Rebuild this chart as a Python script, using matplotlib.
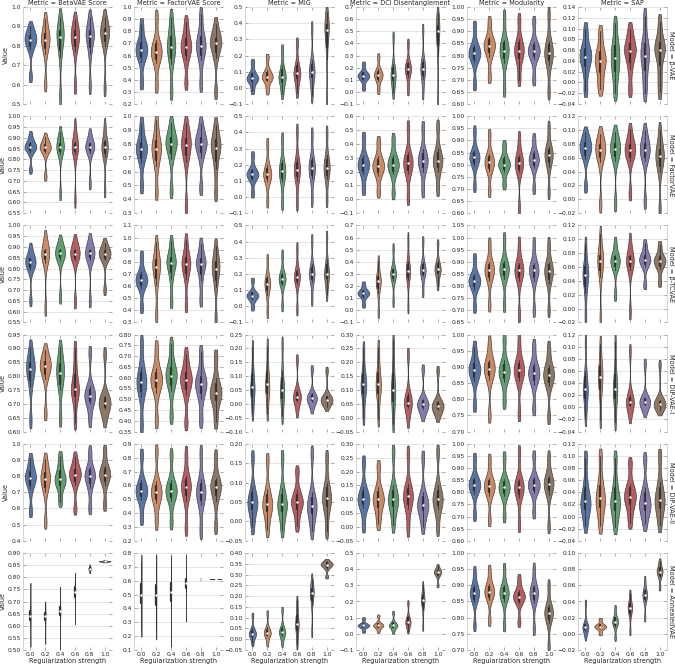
import numpy as np
import pandas as pd
import matplotlib
matplotlib.use("Agg")
import matplotlib.pyplot as plt
import seaborn as sns
from matplotlib.ticker import MultipleLocator, FuncFormatter

REG = ["0.0", "0.2", "0.4", "0.6", "0.8", "1.0"]
METRICS = ["BetaVAE Score", "FactorVAE Score", "MIG", "DCI Disentanglement", "Modularity", "SAP"]
MODELS = ["\u03b2-VAE", "FactorVAE", "\u03b2-TCVAE", "DIP-VAE-I", "DIP-VAE-II", "AnnealedVAE"]

# Each violin: sample values (min, lower tail, body, median, body, upper tail, max)
# ---- Row 1: beta-VAE
BVAE_BETA = [[0.64, 0.78, 0.82, 0.83, 0.84, 0.865, 0.90], [0.60, 0.76, 0.815, 0.83, 0.845, 0.88, 0.94],
             [0.54, 0.74, 0.82, 0.845, 0.865, 0.89, 0.95], [0.59, 0.77, 0.825, 0.845, 0.86, 0.89, 0.94],
             [0.59, 0.76, 0.83, 0.85, 0.865, 0.89, 0.95], [0.58, 0.80, 0.85, 0.865, 0.875, 0.90, 0.95]]
BVAE_FACTOR = [[0.37, 0.55, 0.62, 0.645, 0.67, 0.73, 0.86], [0.35, 0.54, 0.61, 0.63, 0.655, 0.73, 0.92],
               [0.30, 0.53, 0.63, 0.67, 0.71, 0.80, 0.92], [0.37, 0.56, 0.645, 0.67, 0.70, 0.77, 0.88],
               [0.36, 0.56, 0.65, 0.68, 0.71, 0.79, 0.94], [0.30, 0.58, 0.68, 0.70, 0.72, 0.76, 0.86]]
BVAE_MIG = [[-0.02, 0.03, 0.053, 0.06, 0.068, 0.10, 0.16], [-0.02, 0.04, 0.062, 0.07, 0.078, 0.11, 0.19],
            [-0.04, 0.02, 0.058, 0.07, 0.085, 0.14, 0.24], [-0.03, 0.04, 0.08, 0.09, 0.105, 0.16, 0.28],
            [-0.05, 0.04, 0.09, 0.10, 0.115, 0.17, 0.37], [-0.06, 0.18, 0.33, 0.355, 0.375, 0.40, 0.47]]
BVAE_DCI = [[0.03, 0.095, 0.125, 0.13, 0.14, 0.165, 0.23], [0.01, 0.09, 0.13, 0.14, 0.15, 0.185, 0.29],
            [-0.01, 0.07, 0.12, 0.14, 0.16, 0.23, 0.45], [0.01, 0.12, 0.175, 0.19, 0.205, 0.25, 0.40],
            [-0.01, 0.11, 0.175, 0.19, 0.21, 0.27, 0.51], [-0.05, 0.30, 0.47, 0.50, 0.525, 0.56, 0.65]]
BVAE_MOD = [[0.68, 0.775, 0.80, 0.81, 0.82, 0.845, 0.92], [0.71, 0.795, 0.83, 0.84, 0.85, 0.875, 0.94],
            [0.66, 0.77, 0.81, 0.82, 0.835, 0.865, 0.96], [0.70, 0.77, 0.81, 0.82, 0.835, 0.87, 0.95],
            [0.70, 0.785, 0.81, 0.82, 0.83, 0.855, 0.94], [0.65, 0.76, 0.80, 0.81, 0.825, 0.86, 0.97]]
BVAE_SAP = [[-0.015, 0.02, 0.04, 0.048, 0.055, 0.07, 0.10], [-0.013, 0.008, 0.03, 0.04, 0.048, 0.065, 0.095],
            [-0.02, 0.012, 0.03, 0.045, 0.06, 0.075, 0.11], [-0.015, 0.025, 0.05, 0.058, 0.064, 0.078, 0.10],
            [-0.02, 0.01, 0.038, 0.05, 0.062, 0.08, 0.123], [-0.017, 0.015, 0.05, 0.06, 0.067, 0.078, 0.113]]

# ---- Row 2: FactorVAE
FVAE_BETA = [[0.75, 0.835, 0.852, 0.858, 0.864, 0.878, 0.915], [0.72, 0.83, 0.85, 0.855, 0.861, 0.872, 0.905],
             [0.64, 0.825, 0.85, 0.858, 0.865, 0.88, 0.925], [0.61, 0.825, 0.85, 0.857, 0.865, 0.88, 0.955],
             [0.685, 0.83, 0.852, 0.858, 0.864, 0.876, 0.92], [0.655, 0.81, 0.845, 0.855, 0.866, 0.89, 0.96]]
FVAE_FACTOR = [[0.49, 0.66, 0.74, 0.76, 0.78, 0.84, 0.95], [0.45, 0.64, 0.73, 0.76, 0.79, 0.85, 0.97],
               [0.46, 0.69, 0.78, 0.80, 0.82, 0.86, 0.95], [0.35, 0.67, 0.77, 0.79, 0.81, 0.86, 0.95],
               [0.48, 0.70, 0.78, 0.80, 0.82, 0.86, 0.95], [0.44, 0.62, 0.74, 0.77, 0.80, 0.85, 0.94]]
FVAE_MIG = [[0.02, 0.105, 0.132, 0.14, 0.148, 0.175, 0.26], [-0.03, 0.10, 0.13, 0.14, 0.152, 0.20, 0.33],
            [-0.04, 0.09, 0.145, 0.16, 0.175, 0.23, 0.36], [-0.04, 0.10, 0.155, 0.17, 0.185, 0.24, 0.41],
            [-0.02, 0.11, 0.165, 0.18, 0.195, 0.25, 0.39], [-0.02, 0.11, 0.165, 0.18, 0.20, 0.26, 0.40]]
FVAE_DCI = [[0.07, 0.18, 0.235, 0.25, 0.265, 0.32, 0.45], [0.05, 0.17, 0.225, 0.24, 0.255, 0.31, 0.42],
            [0.04, 0.18, 0.235, 0.25, 0.265, 0.32, 0.44], [0.01, 0.18, 0.245, 0.26, 0.28, 0.34, 0.52],
            [0.06, 0.20, 0.26, 0.28, 0.30, 0.36, 0.52], [0.07, 0.20, 0.26, 0.28, 0.30, 0.37, 0.53]]
FVAE_MOD = [[0.71, 0.795, 0.822, 0.83, 0.838, 0.86, 0.94], [0.69, 0.775, 0.80, 0.81, 0.82, 0.845, 0.925],
            [0.715, 0.77, 0.795, 0.80, 0.81, 0.835, 0.885], [0.62, 0.77, 0.798, 0.805, 0.815, 0.84, 0.91],
            [0.70, 0.785, 0.812, 0.82, 0.83, 0.855, 0.91], [0.685, 0.79, 0.83, 0.84, 0.85, 0.875, 0.955]]
FVAE_SAP = [[0.018, 0.058, 0.07, 0.074, 0.078, 0.085, 0.097], [-0.008, 0.054, 0.067, 0.071, 0.075, 0.083, 0.095],
            [-0.006, 0.056, 0.068, 0.072, 0.076, 0.084, 0.097], [0.008, 0.056, 0.067, 0.071, 0.075, 0.083, 0.101],
            [-0.003, 0.056, 0.067, 0.071, 0.075, 0.084, 0.10], [-0.014, 0.04, 0.057, 0.062, 0.067, 0.076, 0.10]]

# ---- Row 3: beta-TCVAE
BTC_BETA = [[0.65, 0.795, 0.822, 0.828, 0.835, 0.85, 0.895], [0.615, 0.825, 0.86, 0.868, 0.875, 0.89, 0.945],
            [0.665, 0.84, 0.864, 0.87, 0.876, 0.89, 0.93], [0.645, 0.84, 0.862, 0.868, 0.875, 0.89, 0.93],
            [0.65, 0.84, 0.864, 0.87, 0.877, 0.89, 0.935], [0.70, 0.84, 0.862, 0.868, 0.874, 0.885, 0.92]]
BTC_FACTOR = [[0.42, 0.58, 0.635, 0.65, 0.665, 0.72, 0.85], [0.36, 0.61, 0.73, 0.76, 0.785, 0.84, 0.96],
              [0.47, 0.66, 0.765, 0.79, 0.81, 0.86, 0.97], [0.44, 0.66, 0.755, 0.78, 0.80, 0.86, 0.98],
              [0.48, 0.64, 0.755, 0.78, 0.80, 0.85, 0.95], [0.33, 0.59, 0.71, 0.74, 0.77, 0.83, 0.93]]
BTC_MIG = [[-0.01, 0.04, 0.06, 0.065, 0.072, 0.09, 0.16], [-0.04, 0.07, 0.125, 0.14, 0.15, 0.185, 0.29],
           [0.00, 0.13, 0.162, 0.17, 0.178, 0.205, 0.32], [-0.02, 0.14, 0.172, 0.18, 0.19, 0.23, 0.36],
           [0.04, 0.15, 0.19, 0.20, 0.215, 0.26, 0.41], [0.07, 0.155, 0.19, 0.20, 0.225, 0.29, 0.43]]
BTC_DCI = [[0.04, 0.105, 0.133, 0.14, 0.147, 0.17, 0.22], [-0.02, 0.14, 0.22, 0.24, 0.255, 0.29, 0.41],
           [0.07, 0.245, 0.29, 0.30, 0.31, 0.35, 0.51], [0.03, 0.25, 0.305, 0.32, 0.34, 0.41, 0.59],
           [0.15, 0.28, 0.32, 0.33, 0.345, 0.40, 0.57], [0.20, 0.29, 0.328, 0.34, 0.355, 0.41, 0.55]]
BTC_MOD = [[0.71, 0.785, 0.812, 0.82, 0.828, 0.85, 0.915], [0.72, 0.82, 0.857, 0.865, 0.875, 0.90, 0.975],
           [0.72, 0.83, 0.862, 0.87, 0.878, 0.905, 0.995], [0.68, 0.82, 0.857, 0.865, 0.873, 0.895, 0.975],
           [0.70, 0.82, 0.857, 0.865, 0.873, 0.895, 0.975], [0.70, 0.81, 0.85, 0.86, 0.87, 0.90, 0.975]]
BTC_SAP = [[-0.013, 0.022, 0.043, 0.048, 0.054, 0.065, 0.093], [-0.015, 0.045, 0.065, 0.068, 0.072, 0.08, 0.107],
           [0.019, 0.056, 0.066, 0.068, 0.071, 0.078, 0.096], [-0.005, 0.056, 0.066, 0.068, 0.071, 0.078, 0.099],
           [0.034, 0.06, 0.068, 0.07, 0.073, 0.08, 0.094], [0.037, 0.057, 0.066, 0.068, 0.071, 0.077, 0.092]]

# ---- Row 4: DIP-VAE-I
DIP1_BETA = [[0.64, 0.76, 0.812, 0.825, 0.838, 0.86, 0.905], [0.665, 0.79, 0.827, 0.835, 0.843, 0.86, 0.895],
             [0.645, 0.75, 0.79, 0.81, 0.835, 0.855, 0.905], [0.635, 0.715, 0.745, 0.755, 0.775, 0.83, 0.90],
             [0.64, 0.70, 0.724, 0.73, 0.737, 0.765, 0.885], [0.64, 0.68, 0.70, 0.705, 0.712, 0.73, 0.88]]
DIP1_FACTOR = [[0.375, 0.51, 0.565, 0.58, 0.595, 0.65, 0.76], [0.40, 0.53, 0.58, 0.59, 0.60, 0.645, 0.74],
               [0.42, 0.54, 0.595, 0.61, 0.625, 0.665, 0.755], [0.39, 0.52, 0.575, 0.59, 0.60, 0.64, 0.71],
               [0.40, 0.50, 0.555, 0.57, 0.585, 0.625, 0.72], [0.395, 0.475, 0.52, 0.53, 0.545, 0.60, 0.70]]
DIP1_MIG = [[-0.035, 0.015, 0.045, 0.06, 0.08, 0.13, 0.205], [-0.035, 0.02, 0.055, 0.07, 0.09, 0.14, 0.21],
            [-0.045, 0.005, 0.035, 0.05, 0.07, 0.12, 0.215], [-0.03, 0.01, 0.021, 0.025, 0.029, 0.05, 0.16],
            [-0.02, 0.008, 0.017, 0.02, 0.024, 0.038, 0.125], [-0.012, 0.006, 0.013, 0.015, 0.018, 0.03, 0.12]]
DIP1_DCI = [[0.0, 0.07, 0.105, 0.12, 0.135, 0.175, 0.25], [-0.005, 0.07, 0.105, 0.12, 0.14, 0.185, 0.255],
            [-0.022, 0.04, 0.08, 0.10, 0.125, 0.19, 0.28], [-0.012, 0.035, 0.05, 0.055, 0.062, 0.09, 0.228],
            [0.005, 0.033, 0.045, 0.048, 0.053, 0.068, 0.175], [0.002, 0.028, 0.039, 0.042, 0.046, 0.06, 0.17]]
DIP1_MOD = [[0.78, 0.855, 0.882, 0.89, 0.898, 0.92, 0.963], [0.75, 0.86, 0.888, 0.895, 0.902, 0.92, 0.975],
            [0.79, 0.852, 0.877, 0.885, 0.895, 0.92, 0.985], [0.755, 0.855, 0.882, 0.89, 0.898, 0.92, 0.985],
            [0.77, 0.845, 0.872, 0.88, 0.888, 0.912, 0.967], [0.745, 0.842, 0.867, 0.875, 0.883, 0.907, 0.96]]
DIP1_SAP = [[-0.018, 0.008, 0.022, 0.03, 0.04, 0.06, 0.107], [-0.021, 0.02, 0.04, 0.05, 0.06, 0.075, 0.105],
            [-0.024, 0.008, 0.022, 0.03, 0.042, 0.065, 0.107], [-0.015, 0.002, 0.007, 0.009, 0.011, 0.02, 0.093],
            [-0.008, 0.004, 0.008, 0.009, 0.011, 0.016, 0.072], [-0.005, 0.002, 0.005, 0.006, 0.007, 0.012, 0.07]]

# ---- Row 5: DIP-VAE-II
DIP2_BETA = [[0.58, 0.72, 0.775, 0.79, 0.805, 0.845, 0.91], [0.515, 0.70, 0.765, 0.78, 0.80, 0.84, 0.905],
             [0.64, 0.725, 0.765, 0.78, 0.805, 0.855, 0.925], [0.595, 0.745, 0.797, 0.81, 0.822, 0.855, 0.92],
             [0.60, 0.725, 0.785, 0.80, 0.815, 0.855, 0.955], [0.62, 0.745, 0.797, 0.81, 0.825, 0.865, 0.96]]
DIP2_FACTOR = [[0.36, 0.495, 0.545, 0.56, 0.578, 0.64, 0.82], [0.33, 0.47, 0.535, 0.55, 0.568, 0.63, 0.845],
               [0.33, 0.49, 0.545, 0.56, 0.578, 0.64, 0.82], [0.29, 0.49, 0.57, 0.59, 0.61, 0.67, 0.83],
               [0.27, 0.455, 0.53, 0.55, 0.57, 0.645, 0.835], [0.30, 0.49, 0.57, 0.59, 0.605, 0.655, 0.81]]
DIP2_MIG = [[-0.015, 0.022, 0.043, 0.05, 0.058, 0.088, 0.165], [-0.022, 0.017, 0.038, 0.045, 0.053, 0.083, 0.158],
            [-0.022, 0.017, 0.038, 0.045, 0.053, 0.085, 0.165], [-0.012, 0.022, 0.043, 0.05, 0.057, 0.08, 0.13],
            [-0.025, 0.012, 0.033, 0.04, 0.047, 0.075, 0.175], [-0.025, 0.025, 0.052, 0.06, 0.07, 0.10, 0.165]]
DIP2_DCI = [[0.003, 0.07, 0.093, 0.10, 0.11, 0.145, 0.235], [0.01, 0.055, 0.09, 0.10, 0.11, 0.145, 0.22],
            [0.006, 0.062, 0.092, 0.10, 0.11, 0.15, 0.27], [-0.008, 0.065, 0.10, 0.11, 0.12, 0.155, 0.265],
            [0.0, 0.05, 0.073, 0.08, 0.09, 0.125, 0.25], [-0.005, 0.065, 0.092, 0.10, 0.11, 0.15, 0.27]]
DIP2_MOD = [[0.705, 0.795, 0.822, 0.83, 0.838, 0.86, 0.94], [0.685, 0.785, 0.817, 0.825, 0.833, 0.857, 0.935],
            [0.70, 0.785, 0.813, 0.82, 0.828, 0.855, 0.945], [0.665, 0.778, 0.812, 0.82, 0.828, 0.855, 0.965],
            [0.715, 0.798, 0.822, 0.83, 0.838, 0.862, 0.95], [0.66, 0.79, 0.827, 0.835, 0.843, 0.867, 0.945]]
DIP2_SAP = [[-0.015, 0.007, 0.018, 0.025, 0.035, 0.058, 0.097], [-0.016, 0.008, 0.022, 0.03, 0.04, 0.062, 0.10],
            [-0.017, 0.005, 0.018, 0.025, 0.035, 0.058, 0.097], [-0.01, 0.013, 0.027, 0.033, 0.04, 0.054, 0.088],
            [-0.013, 0.007, 0.016, 0.022, 0.03, 0.048, 0.095], [-0.014, 0.008, 0.021, 0.028, 0.037, 0.058, 0.10]]

# ---- Row 6: AnnealedVAE
ANN_BETA = [[0.535, 0.61, 0.635, 0.64, 0.645, 0.68, 0.755], [0.54, 0.61, 0.635, 0.64, 0.645, 0.66, 0.685],
            [0.525, 0.635, 0.655, 0.66, 0.667, 0.69, 0.74], [0.625, 0.70, 0.735, 0.74, 0.748, 0.77, 0.80],
            [0.82, 0.829, 0.833, 0.835, 0.837, 0.841, 0.85], [0.862, 0.864, 0.865, 0.866, 0.866, 0.867, 0.869]]
ANN_FACTOR = [[0.245, 0.40, 0.48, 0.50, 0.53, 0.62, 0.735], [0.23, 0.38, 0.47, 0.50, 0.53, 0.61, 0.735],
              [0.18, 0.41, 0.50, 0.52, 0.545, 0.62, 0.725], [0.345, 0.52, 0.572, 0.58, 0.588, 0.64, 0.745],
              [0.605, 0.608, 0.61, 0.612, 0.614, 0.616, 0.618], [0.611, 0.6115, 0.612, 0.612, 0.612, 0.6125, 0.613]]
ANN_MIG = [[-0.02, 0.01, 0.022, 0.025, 0.03, 0.05, 0.11], [-0.02, 0.015, 0.027, 0.03, 0.035, 0.055, 0.12],
           [-0.02, 0.015, 0.029, 0.033, 0.038, 0.06, 0.135], [-0.025, 0.025, 0.06, 0.07, 0.085, 0.13, 0.18],
           [0.035, 0.16, 0.208, 0.215, 0.222, 0.24, 0.28], [0.29, 0.328, 0.342, 0.345, 0.348, 0.356, 0.365]]
ANN_DCI = [[0.015, 0.04, 0.049, 0.052, 0.055, 0.065, 0.095], [0.015, 0.04, 0.049, 0.052, 0.056, 0.067, 0.11],
           [0.012, 0.04, 0.049, 0.052, 0.057, 0.072, 0.13], [0.02, 0.05, 0.068, 0.075, 0.082, 0.11, 0.19],
           [0.045, 0.15, 0.20, 0.21, 0.22, 0.245, 0.30], [0.30, 0.355, 0.375, 0.38, 0.385, 0.397, 0.42]]
ANN_MOD = [[0.775, 0.848, 0.87, 0.875, 0.882, 0.90, 0.943], [0.79, 0.855, 0.875, 0.88, 0.887, 0.905, 0.948],
           [0.775, 0.85, 0.87, 0.875, 0.882, 0.90, 0.952], [0.785, 0.845, 0.861, 0.865, 0.87, 0.885, 0.922],
           [0.765, 0.845, 0.868, 0.875, 0.882, 0.90, 0.952], [0.712, 0.785, 0.808, 0.815, 0.822, 0.84, 0.90]]
ANN_SAP = [[-0.004, 0.004, 0.007, 0.008, 0.009, 0.014, 0.038], [0.0, 0.006, 0.008, 0.009, 0.01, 0.012, 0.018],
           [-0.005, 0.009, 0.013, 0.015, 0.017, 0.021, 0.032], [0.003, 0.022, 0.03, 0.032, 0.034, 0.039, 0.05],
           [0.02, 0.04, 0.046, 0.048, 0.05, 0.055, 0.067], [0.057, 0.07, 0.075, 0.077, 0.079, 0.083, 0.09]]

# ---- y-axis ranges (low, high, tick step)
BVAE_YL = [(0.5, 1.0, 0.1), (0.2, 1.0, 0.1), (-0.1, 0.5, 0.1), (-0.1, 0.7, 0.1), (0.6, 1.0, 0.05), (-0.04, 0.14, 0.02)]
FVAE_YL = [(0.55, 1.0, 0.05), (0.3, 1.0, 0.1), (-0.1, 0.5, 0.1), (-0.1, 0.6, 0.1), (0.6, 1.0, 0.05), (-0.02, 0.12, 0.02)]
BTC_YL = [(0.55, 1.0, 0.05), (0.3, 1.1, 0.1), (-0.1, 0.5, 0.1), (-0.1, 0.7, 0.1), (0.65, 1.05, 0.05), (-0.02, 0.12, 0.02)]
DIP1_YL = [(0.6, 0.95, 0.05), (0.35, 0.8, 0.05), (-0.1, 0.25, 0.05), (-0.05, 0.3, 0.05), (0.7, 1.0, 0.05), (-0.04, 0.12, 0.02)]
DIP2_YL = [(0.4, 1.0, 0.1), (0.2, 0.9, 0.1), (-0.05, 0.2, 0.05), (-0.05, 0.3, 0.05), (0.6, 1.0, 0.05), (-0.04, 0.12, 0.02)]
ANN_YL = [(0.5, 0.9, 0.05), (0.1, 0.8, 0.1), (-0.05, 0.4, 0.05), (-0.1, 0.5, 0.1), (0.7, 1.0, 0.05), (-0.02, 0.10, 0.02)]

ROWS = [
    [BVAE_BETA, BVAE_FACTOR, BVAE_MIG, BVAE_DCI, BVAE_MOD, BVAE_SAP],
    [FVAE_BETA, FVAE_FACTOR, FVAE_MIG, FVAE_DCI, FVAE_MOD, FVAE_SAP],
    [BTC_BETA, BTC_FACTOR, BTC_MIG, BTC_DCI, BTC_MOD, BTC_SAP],
    [DIP1_BETA, DIP1_FACTOR, DIP1_MIG, DIP1_DCI, DIP1_MOD, DIP1_SAP],
    [DIP2_BETA, DIP2_FACTOR, DIP2_MIG, DIP2_DCI, DIP2_MOD, DIP2_SAP],
    [ANN_BETA, ANN_FACTOR, ANN_MIG, ANN_DCI, ANN_MOD, ANN_SAP],
]
YLIMS = [BVAE_YL, FVAE_YL, BTC_YL, DIP1_YL, DIP2_YL, ANN_YL]

sns.set_style("whitegrid")
plt.rcParams["font.family"] = ["DejaVu Sans"]
plt.rcParams.update({
    "grid.color": "0.88", "grid.linewidth": 0.6,
    "axes.edgecolor": "0.8", "axes.linewidth": 0.6,
    "text.color": "0.15", "xtick.color": "0.15", "ytick.color": "0.15",
})

W, H = 675, 668
fig = plt.figure(figsize=(W / 100, H / 100), dpi=100)
palette = sns.color_palette("deep", 6)
FS_TICK = 4.3
FS_LAB = 4.7


def make_fmt(step):
    dec = 1 if step >= 0.1 else 2

    def f(v, pos):
        s = f"{v:.{dec}f}"
        if s.startswith("-"):
            s = "\u2212" + s[1:]
        if s in ("\u22120.0", "\u22120.00"):
            s = s[1:]
        return s
    return FuncFormatter(f)


for i, model in enumerate(MODELS):
    for j, metric in enumerate(METRICS):
        left = 23 + 111 * j
        top = 7 + 109.2 * i
        ax = fig.add_axes([left / W, 1 - (top + 97) / H, 89 / W, 97 / H])
        xs, ys = [], []
        for k, vals in enumerate(ROWS[i][j]):
            xs += [REG[k]] * len(vals)
            ys += list(vals)
        df = pd.DataFrame({"Regularization strength": xs, "Value": ys})
        sns.violinplot(data=df, x="Regularization strength", y="Value",
                       hue="Regularization strength", order=REG, hue_order=REG,
                       palette=palette, legend=False, inner="box", cut=0.8,
                       bw_adjust=0.6, linewidth=0.5, saturation=0.75, width=0.8,
                       linecolor="0.25", density_norm="area", common_norm=True,
                       ax=ax,
                       inner_kws=dict(box_width=1.6, whis_width=0.6, marker="o",
                                      color="0.2"))
        lo, hi, step = YLIMS[i][j]
        ax.set_ylim(lo, hi)
        ax.yaxis.set_major_locator(MultipleLocator(step))
        ax.yaxis.set_major_formatter(make_fmt(step))
        ax.set_xlim(-0.5, 5.5)
        ax.xaxis.grid(False)
        ax.yaxis.grid(True)
        ax.set_axisbelow(True)
        for s in ("top", "bottom", "right"):
            ax.spines[s].set_visible(False)
        if j == 5:
            ax.spines["right"].set_visible(True)
        ax.tick_params(axis="both", which="major", labelsize=FS_TICK, length=2,
                       width=0.5, color="0.55", pad=1.5, direction="in",
                       top=True, bottom=True, left=True, right=True)
        if i == 0:
            ax.set_title(f"Metric = {metric}", fontsize=FS_LAB, pad=1.5)
        if j == 0:
            ax.set_ylabel("Value", fontsize=FS_LAB, labelpad=1.5)
        else:
            ax.set_ylabel("")
        if i == 5:
            ax.set_xlabel("Regularization strength", fontsize=FS_LAB, labelpad=1)
        else:
            ax.set_xlabel("")
            ax.set_xticklabels([])
        if j == 5:
            ax.text(1.01, 0.5, f"Model = {model}", transform=ax.transAxes,
                    rotation=-90, ha="left", va="center", fontsize=FS_LAB)

fig.savefig("out.png", dpi=100)
